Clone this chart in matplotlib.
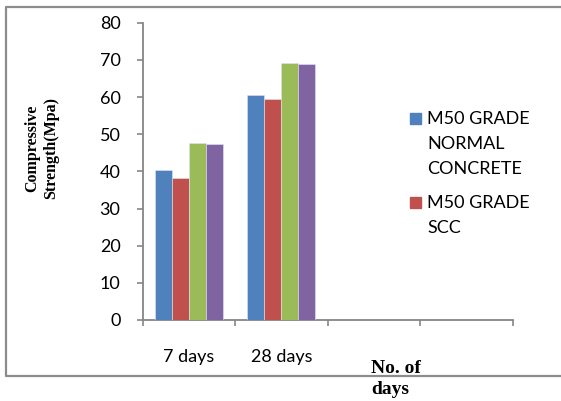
import matplotlib
matplotlib.use("Agg")
import matplotlib.pyplot as plt
from matplotlib.lines import Line2D
from matplotlib.patches import Rectangle
import numpy as np

categories = ["7 days", "28 days", "", ""]
series_names = ["M50 GRADE\nNORMAL\nCONCRETE", "M50 GRADE\nSCC", "Series 3", "Series 4"]
blue_vals = [40.4, 60.6]
red_vals = [38.1, 59.5]
green_vals = [47.5, 69.2]
purple_vals = [47.4, 68.8]
series_values = [blue_vals, red_vals, green_vals, purple_vals]
colors = ["#4F81BD", "#C0504D", "#9BBB59", "#8064A2"]
yticks = [0, 10, 20, 30, 40, 50, 60, 70, 80]

W, H = 561, 401
fig = plt.figure(figsize=(W / 100, H / 100), dpi=100)
ax = fig.add_axes([142.7 / W, 1 - 320 / H, (512.7 - 142.7) / W, (320 - 22.7) / H])

tick_font = "Lato"
fs = 13
bw = 0.184
n = len(series_values)
for i, (vals, c) in enumerate(zip(series_values, colors)):
    x = np.arange(len(vals)) + (i - (n - 1) / 2) * bw
    ax.bar(x, vals, width=bw, color=c, edgecolor="#dce6f2", linewidth=0.4, zorder=3)

ax.set_xlim(-0.5, len(categories) - 0.5)
ax.set_ylim(0, 80)
ax.set_yticks(yticks)
ax.set_yticklabels([str(v) for v in yticks], fontfamily=tick_font, fontsize=fs)
ax.set_xticks(np.arange(len(categories) + 1) - 0.5)
ax.set_xticklabels([])
ax.set_xticks(np.arange(len(categories)), minor=True)
ax.set_xticklabels(categories, minor=True, fontfamily=tick_font, fontsize=fs)
ax.tick_params(axis="x", which="minor", length=0, pad=21)
ax.tick_params(axis="x", which="major", length=4.5, color="#868686", width=1.2, direction="out")
ax.tick_params(axis="y", length=4.5, color="#868686", width=1.2, direction="out", pad=11.5)
for s in ["top", "right"]:
    ax.spines[s].set_visible(False)
for s in ["left", "bottom"]:
    ax.spines[s].set_color("#868686")
    ax.spines[s].set_linewidth(1.3)

# y label
fig.text(41.5 / W, 1 - 148 / H, "Compressive\nStrength(Mpa)", rotation=90, ha="center", va="center",
         multialignment="center", fontfamily="Liberation Serif", fontweight="bold", fontsize=11.5,
         linespacing=1.2)
# x label
fig.text(371 / W, 1 - 379 / H, "No. of\ndays", ha="left", va="center", fontfamily="Liberation Serif",
         fontweight="bold", fontsize=14, linespacing=1.35)

# legend (only first two entries visible, as in the reference)
leg_y = [118, 202]
for name, c, y in zip(series_names[:2], colors[:2], leg_y):
    fig.patches.append(Rectangle((410 / W, 1 - (y + 5.5) / H), 11 / W, 11 / H,
                                 transform=fig.transFigure, color=c, figure=fig))
    fig.text(427 / W, 1 - (y - 7.5) / H, name, ha="left", va="top", fontfamily=tick_font,
             fontsize=fs, linespacing=1.7)

# outer frame
fx = [600 / W, 6 / W, 6 / W, 600 / W]
fy = [1 - 7 / H, 1 - 7 / H, 1 - 376 / H, 1 - 376 / H]
fig.lines.append(Line2D(fx, fy, transform=fig.transFigure, color="#8c8c8c", linewidth=1.6, figure=fig))

fig.savefig("out.png", dpi=100)
